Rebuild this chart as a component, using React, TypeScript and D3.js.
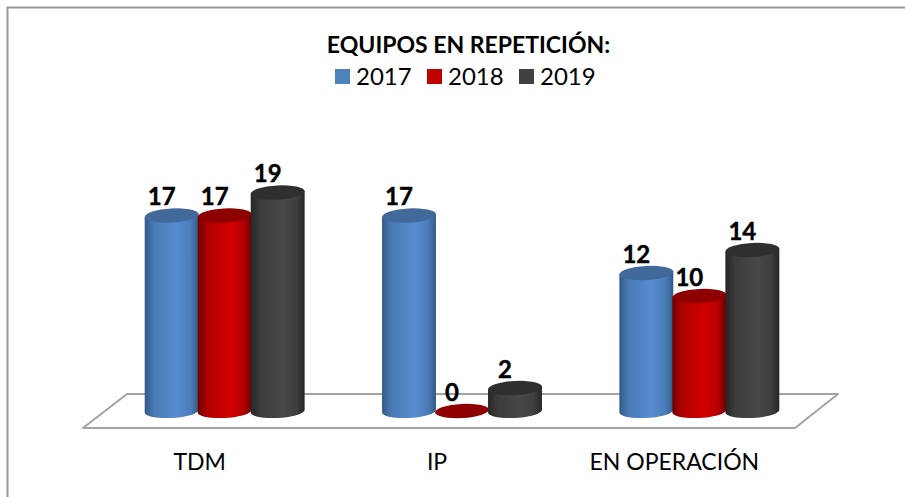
import React from "react";
import * as d3 from "d3";

const categories = ["TDM", "IP", "EN OPERACIÓN"];
const years = ["2017", "2018", "2019"];
const values2017 = [17, 17, 12];
const values2018 = [17, 0, 10];
const values2019 = [19, 2, 14];
const seriesValues = [values2017, values2018, values2019];

// side colour stops: edge, mid, top cap
const shades = [
  { edge: "#335a86", mid: "#568cd0", cap: "#41699a", swatch: "#4f81bd" },
  { edge: "#6e0000", mid: "#d20000", cap: "#8e0000", swatch: "#c00000" },
  { edge: "#262626", mid: "#484848", cap: "#2f2f2f", swatch: "#404040" },
];

const width = 905;
const height = 497;
const rx = 27;
const ry = 7;
const tilt = (-3 * Math.PI) / 180;

const x0 = d3.scaleBand().domain(categories).range([106, 818]);
const x1 = d3.scaleBand().domain(years).range([-79.5, 79.5]);
const y = d3.scaleLinear().domain([0, 19]).range([411, 192.5]);

// point on a tilted ellipse
const rim = (cx: number, cy: number, t: number): [number, number] => [
  cx + rx * Math.cos(t) * Math.cos(tilt) - ry * Math.sin(t) * Math.sin(tilt),
  cy + rx * Math.cos(t) * Math.sin(tilt) + ry * Math.sin(t) * Math.cos(tilt),
];

const sidePath = (cx: number, top: number, base: number) => {
  const steps = d3.range(0, 25).map(i => Math.PI - (i * Math.PI) / 24);
  const pts = [rim(cx, top, Math.PI), ...steps.map(t => rim(cx, base, t)), rim(cx, top, 0)];
  return d3.line()(pts) + "Z";
};

const App = () => {
  return (
    <svg
      width={width}
      height={height}
      style={{ position: "absolute", left: 0, top: 0, fontFamily: "Lato, Carlito, sans-serif" }}
    >
      <defs>
        {shades.map((s, i) => (
          <linearGradient id={`side${i}`} key={i} x1="0" x2="1" y1="0" y2="0">
            <stop offset="0" stopColor={s.edge} />
            <stop offset="0.18" stopColor={d3.interpolateRgb(s.edge, s.mid)(0.65)} />
            <stop offset="0.6" stopColor={s.mid} />
            <stop offset="0.85" stopColor={d3.interpolateRgb(s.edge, s.mid)(0.7)} />
            <stop offset="1" stopColor={s.edge} />
          </linearGradient>
        ))}
      </defs>

      <path d="M7.5,497V7.5H905" fill="none" stroke="#9a9a9a" strokeWidth={2} />

      <path
        d="M83,428H795L838,394H127Z"
        fill="#fff"
        stroke="#a3a3a3"
        strokeWidth={2}
        strokeLinejoin="round"
      />

      {categories.map((cat, c) => (
        <g key={cat} transform={`translate(${x0(cat)! + x0.bandwidth() / 2},0)`}>
          {years.map((yr, s) => {
            const v = seriesValues[s][c];
            const cx = x1(yr)! + x1.bandwidth() / 2;
            const top = y(v);
            return (
              <g key={yr}>
                {v > 0 && <path d={sidePath(cx, top, y(0))} fill={`url(#side${s})`} />}
                <ellipse
                  cx={cx}
                  cy={top}
                  rx={rx}
                  ry={ry}
                  fill={shades[s].cap}
                  transform={`rotate(-3 ${cx} ${top})`}
                />
                <text
                  x={cx - 10}
                  y={top - 10.5}
                  textAnchor="middle"
                  fontSize={24}
                  fontWeight={700}
                  fill="#000"
                  stroke="#000"
                  strokeWidth={0.4}
                >
                  {v}
                </text>
              </g>
            );
          })}
          <text x={-25} y={470} textAnchor="middle" fontSize={23} fill="#000">
            {cat}
          </text>
        </g>
      ))}

      <text x={468.5} y={53} textAnchor="middle" fontSize={23} fontWeight={700} fill="#000">
        EQUIPOS EN REPETICIÓN:
      </text>

      {years.map((yr, i) => {
        const lx = 335 + i * 92;
        return (
          <g key={yr}>
            <rect x={lx} y={69} width={15} height={15} fill={shades[i].swatch} />
            <text x={lx + 21} y={85} fontSize={24} fill="#000">
              {yr}
            </text>
          </g>
        );
      })}
    </svg>
  );
};

export default App;
